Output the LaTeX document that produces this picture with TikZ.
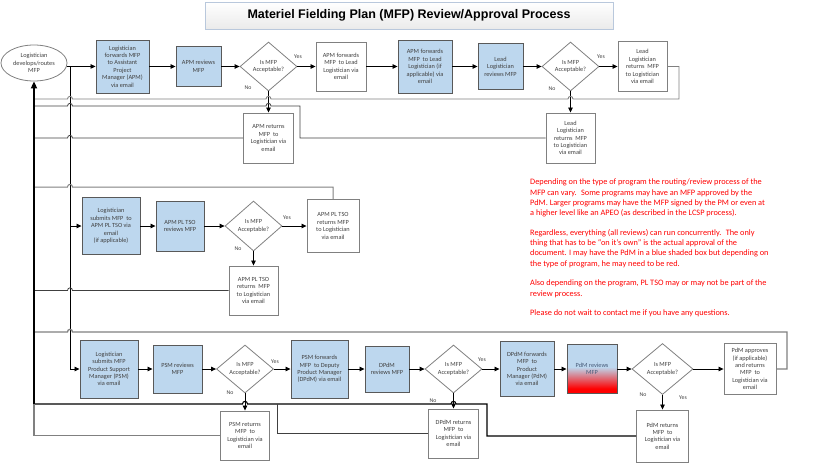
\documentclass[tikz,border=0pt]{standalone}
\usepackage{fontspec}
\setmainfont{Carlito}
\newfontfamily\headfont{Liberation Sans}
\usetikzlibrary{shapes.geometric,arrows.meta}

\definecolor{boxblue}{RGB}{189,215,238}
\definecolor{boxedge}{RGB}{89,89,89}
\definecolor{paleedge}{RGB}{128,128,128}
\definecolor{boxtext}{RGB}{64,64,64}
\definecolor{notered}{RGB}{255,0,0}
\definecolor{titleedge}{RGB}{185,200,220}
\definecolor{pdmtext}{RGB}{70,90,120}
\pgfdeclareverticalshading{pdmshade}{100bp}{color(0bp)=(red); color(30bp)=(red); color(52bp)=(boxblue); color(100bp)=(boxblue)}

\tikzset{
    stepbox/.style={draw=paleedge, line width=0.9pt, fill=white, align=center, inner sep=1pt,
        font=\fontsize{6.3}{7.4}\selectfont, text=boxtext},
    bluebox/.style={stepbox, draw=boxedge, fill=boxblue},
    decision/.style={diamond, draw=paleedge, line width=0.8pt, fill=white, inner sep=0pt, align=center,
        font=\fontsize{6.3}{7.4}\selectfont, text=boxtext},
    boxsize/.style 2 args={minimum width=#1pt, minimum height=#2pt},
    answer/.style={font=\fontsize{5.8}{6}\selectfont, text=boxtext, inner sep=0pt},
    flow/.style={line width=0.8pt, draw=black, -{Triangle[length=5pt,width=4.5pt]}},
    back/.style={line width=0.8pt, draw=black!75},
    backgray/.style={line width=1pt, draw=black!50},
    jumpover/.style args={#1,#2}{insert path={-- ({#1+2.5},#2) .. controls ({#1+2.5},{#2-3.5}) and ({#1-2.5},{#2-3.5}) .. ({#1-2.5},#2)}},
}

\begin{document}
\begin{tikzpicture}[x=1pt, y=-1pt]
    % Page size of the reference
    \useasboundingbox (0,0) rectangle (819,474);
    % Title bar
    \node[draw=titleedge, line width=0.8pt, top color=white, bottom color=black!8, boxsize={408}{27},
        font=\headfont\bfseries\fontsize{12.5}{14}\selectfont] (title) at (409,15.5)
        {Materiel Fielding Plan (MFP) Review/Approval Process};
    % Start: the logistician
    \node[ellipse, draw=paleedge, line width=0.8pt, fill=white, boxsize={66}{36}, inner sep=0pt, align=center,
        font=\fontsize{6.3}{7.4}\selectfont, text=boxtext] (logi) at (34,63) {Logistician\\develops/routes\\MFP};
    \coordinate (split) at (70,66.5);

    % Row 1: APM and Lead Logistician
    \node[bluebox, boxsize={53}{53}] (fwdapm) at (122.5,66.5) {Logistician\\forwards MFP\\to Assistant\\Project\\Manager (APM)\\via email};
    \node[bluebox, boxsize={45}{40}] (apmrev) at (198.5,66.5) {APM reviews\\MFP};
    \node[decision, boxsize={57}{49}] (apmok) at (268.5,66.5) {Is MFP\\Acceptable?};
    \node[stepbox, boxsize={50}{49}] (apmfwd) at (341,66.5) {APM forwards\\MFP~ to Lead\\Logistician via\\email};
    \node[bluebox, boxsize={54}{53}] (apmfwdif) at (425,66.5) {APM forwards\\MFP~ to Lead\\Logistician (if\\applicable) via\\email};
    \node[bluebox, boxsize={45}{46}] (leadrev) at (500.5,66.5) {Lead\\Logistician\\reviews MFP};
    \node[decision, boxsize={57}{49}] (leadok) at (570.5,66.5) {Is MFP\\Acceptable?};
    \node[stepbox, boxsize={49}{50}] (leadyes) at (642.5,66.5) {Lead\\Logistician\\returns~ MFP\\to Logistician\\via email};
    \node[stepbox, boxsize={50}{50}] (apmno) at (268.5,138) {APM returns\\MFP~ to\\Logistician via\\email};
    \node[stepbox, boxsize={49}{50}] (leadno) at (570.5,138) {Lead\\Logistician\\returns~ MFP\\to Logistician\\via email};
    \node[answer] (apmoky) at (298,57) {Yes};
    \node[answer] (apmokn) at (248,88) {No};
    \node[answer] (leadoky) at (601,57) {Yes};
    \node[answer] (leadokn) at (552,89) {No};

    % Row 2: APM PL TSO
    \node[bluebox, boxsize={58}{57}] (subtso) at (111,226) {Logistician\\submits MFP~ to\\APM PL TSO via\\email\\(if applicable)};
    \node[bluebox, boxsize={48}{50}] (tsorev) at (180,226) {APM PL TSO\\reviews MFP};
    \node[decision, boxsize={57}{50}] (tsook) at (253.5,226) {Is MFP\\Acceptable?};
    \node[stepbox, boxsize={52}{53}] (tsoyes) at (333,226) {APM PL TSO\\returns MFP\\to Logistician\\via email};
    \node[stepbox, boxsize={49}{49}] (tsono) at (253.5,290.5) {APM PL TSO\\returns~ MFP\\to Logistician\\via email};
    \node[answer] (tsooky) at (287,218) {Yes};
    \node[answer] (tsookn) at (238,249) {No};

    % Row 3: PSM, DPdM and PdM
    \node[bluebox, boxsize={58}{58}] (subpsm) at (109,369) {Logistician\\submits MFP\\Product Support\\Manager (PSM)\\via email};
    \node[bluebox, boxsize={49}{48}] (psmrev) at (177.5,369) {PSM reviews\\MFP};
    \node[decision, boxsize={57}{48}] (psmok) at (245,369) {Is MFP\\Acceptable?};
    \node[bluebox, boxsize={57}{58}] (psmfwd) at (319.5,369) {PSM forwards\\MFP~ to Deputy\\Product Manager\\(DPdM) via email};
    \node[bluebox, boxsize={44}{46}] (dpdmrev) at (387,369) {DPdM\\reviews MFP};
    \node[decision, boxsize={57}{48}] (dpdmok) at (453.5,369) {Is MFP\\Acceptable?};
    \node[bluebox, boxsize={54}{55}] (dpdmfwd) at (527,369) {DPdM forwards\\MFP~ to\\Product\\Manager (PdM)\\via email};
    \node[stepbox, draw=boxedge, shade, shading=pdmshade, boxsize={50}{49}, text=pdmtext] (pdmrev) at (592,369) {PdM reviews\\MFP};
    \node[decision, boxsize={61}{51}] (pdmok) at (662.5,369) {Is MFP\\Acceptable?};
    \node[stepbox, boxsize={52}{51}] (pdmyes) at (750,369) {PdM approves\\(if applicable)\\and returns\\MFP~ to\\Logistician via\\email};
    \node[stepbox, boxsize={49}{49}] (psmno) at (245,435.5) {PSM returns\\MFP~ to\\Logistician via\\email};
    \node[stepbox, boxsize={50}{49}] (dpdmno) at (453.5,433.5) {DPdM returns\\MFP~ to\\Logistician via\\email};
    \node[stepbox, boxsize={52}{52}] (pdmno) at (662.5,436) {PdM returns\\MFP~ to\\Logistician via\\email};
    \node[answer] (psmoky) at (275,362) {Yes};
    \node[answer] (psmokn) at (230,393) {No};
    \node[answer] (dpdmoky) at (482,360) {Yes};
    \node[answer] (dpdmokn) at (433,401) {No};
    \node[answer] (pdmokn) at (643,395) {No};
    \node[answer] (pdmoky) at (683,398) {Yes};

    % Note
    \node[anchor=north west, align=left, inner sep=0pt, text=notered, font=\fontsize{8.3}{10.3}\selectfont] (memo) at (530,179)
        {Depending on the type of program the routing/review process of the\\
         MFP can vary.~ Some programs may have an MFP approved by the\\
         PdM. Larger programs may have the MFP signed by the PM or even at\\
         a higher level like an APEO (as described in the LCSP process).\\[9.2pt]
         Regardless, everything (all reviews) can run concurrently.~ The only\\
         thing that has to be “on it’s own” is the actual approval of the\\
         document. I may have the PdM in a blue shaded box but depending on\\
         the type of program, he may need to be red.\\[9.2pt]
         Also depending on the program, PL TSO may or may not be part of the\\
         review process.\\[9.2pt]
         Please do not wait to contact me if you have any questions.};

    % Forward connectors
    \draw[flow] (logi.-6) -- (logi.-6 -| fwdapm.west);
    \draw[flow] (fwdapm) -- (apmrev);
    \draw[flow] (apmrev) -- (apmok);
    \draw[flow] (apmok) -- (apmfwd);
    \draw[flow] (apmfwd) -- (apmfwdif);
    \draw[flow] (apmfwdif) -- (leadrev);
    \draw[flow] (leadrev) -- (leadok);
    \draw[flow] (leadok) -- (leadyes);
    \draw[flow] (split) |- (subpsm.west);
    \draw[flow] (split |- subtso.west) -- (subtso.west);
    \draw[flow] (subtso) -- (tsorev);
    \draw[flow] (tsorev) -- (tsook);
    \draw[flow] (tsook) -- (tsoyes);
    \draw[flow] (subpsm) -- (psmrev);
    \draw[flow] (psmrev) -- (psmok);
    \draw[flow] (psmok) -- (psmfwd);
    \draw[flow] (psmfwd) -- (dpdmrev);
    \draw[flow] (dpdmrev) -- (dpdmok);
    \draw[flow] (dpdmok) -- (dpdmfwd);
    \draw[flow] (dpdmfwd) -- (pdmrev);
    \draw[flow] (pdmrev) -- (pdmok);
    \draw[flow] (pdmok) -- (pdmyes);
    % The "No" branches
    \draw[flow] (apmok) -- (apmno);
    \draw[flow] (leadok) -- (leadno);
    \draw[flow] (tsook) -- (tsono);
    \draw[flow] (psmok) -- (psmno);
    \draw[flow] (dpdmok) -- (dpdmno);
    \draw[flow] (pdmok) -- (pdmno);

    % Return lines back to the logistician
    \draw[backgray, line width=0.9pt] (leadyes.east) -- (679,66.5) -- (679,99) [jumpover={570.5,99}] [jumpover={268.5,99}] [jumpover={70,99}] -- (34,99);
    \draw[back] (leadno.west) -- (300,138) -- (300,106) [jumpover={268.5,106}] [jumpover={70,106}] -- (34,106);
    \draw[back] (apmno.west) [jumpover={70,138}] -- (34,138);
    \draw[backgray] (tsoyes.north) -- (333,187) [jumpover={70,187}] -- (34,187);
    \draw[back] (tsono.west) [jumpover={70,290.5}] -- (34,290.5);
    \draw[backgray, line width=1.3pt] (pdmyes.east) -- (787,369) -- (787,332) [jumpover={70,332}] -- (34,332);
    \draw[line width=1.1pt] (pdmno.west) -- (487,436) -- (487,404) [jumpover={453.5,404}] [jumpover={245,404}] -- (34,404);
    \draw[back] (dpdmno.west) -- (277,433.5) -- (277,404);
    \draw[backgray, line width=1.2pt] (psmno.west) -- (34,435.5) -- (34,404);
    \draw[line width=2.2pt, -{Triangle[length=7pt,width=6pt]}] (34,404) -- (logi.south);
\end{tikzpicture}
\end{document}
